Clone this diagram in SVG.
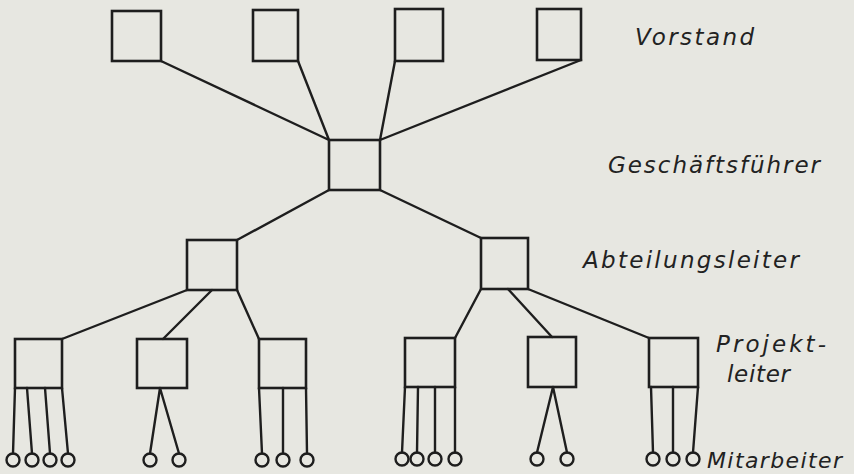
<svg xmlns="http://www.w3.org/2000/svg" width="854" height="474" viewBox="0 0 854 474">
<style>
.bx{fill:none;stroke:#1e1e1e;stroke-width:2.6}
.ln{fill:none;stroke:#1e1e1e;stroke-width:2.4;stroke-linecap:round}
.ci{fill:none;stroke:#1e1e1e;stroke-width:2.4}
.lb{font-family:"DejaVu Sans","Liberation Sans",sans-serif;font-style:italic;font-size:23px;fill:#222}
</style>
<rect width="854" height="474" fill="#e7e7e1"/>
<g id="connectors">
<path class="ln" d="M161,61 L329,140 M298,61 L329,140 M395,61 L380,140 M581,60 L380,140"/>
<path class="ln" d="M329,190 L237,240 M380,190 L481,238"/>
<path class="ln" d="M187,290 L62,339 M212,290 L163,339 M237,290 L259,339"/>
<path class="ln" d="M481,289 L455,338 M508,289 L552,337 M528,289 L649,338"/>
<path class="ln" d="M15,388 L13,453.5 M27,388 L32,453.5 M45,388 L50,453.5 M62,388 L68,453.5"/>
<path class="ln" d="M160,388 L150,453.5 M160,388 L179,453.5"/>
<path class="ln" d="M259,388 L262,453.5 M283,388 L283,453.5 M306,388 L307,453.5"/>
<path class="ln" d="M405,387 L402,452.5 M418,387 L417,452.5 M435,387 L435,452.5 M455,387 L455,452.5"/>
<path class="ln" d="M553,387 L537,452.5 M553,387 L567,452.5"/>
<path class="ln" d="M651,387 L653,452.5 M673,387 L673,452.5 M698,387 L693,452.5"/>
</g>
<g id="vorstand1"><rect class="bx" x="112" y="11" width="49" height="50"/></g>
<g id="vorstand2"><rect class="bx" x="253" y="10" width="45" height="51"/></g>
<g id="vorstand3"><rect class="bx" x="395" y="9" width="48" height="52"/></g>
<g id="vorstand4"><rect class="bx" x="537" y="9" width="44" height="51"/></g>
<g id="geschaeftsfuehrer"><rect class="bx" x="329" y="140" width="51" height="50"/></g>
<g id="abteilungsleiter1"><rect class="bx" x="187" y="240" width="50" height="50"/></g>
<g id="abteilungsleiter2"><rect class="bx" x="481" y="238" width="47" height="51"/></g>
<g id="projektleiter1"><rect class="bx" x="15" y="339" width="47" height="49"/></g>
<g id="projektleiter2"><rect class="bx" x="137" y="339" width="50" height="49"/></g>
<g id="projektleiter3"><rect class="bx" x="259" y="339" width="47" height="49"/></g>
<g id="projektleiter4"><rect class="bx" x="405" y="338" width="50" height="49"/></g>
<g id="projektleiter5"><rect class="bx" x="528" y="337" width="48" height="50"/></g>
<g id="projektleiter6"><rect class="bx" x="649" y="338" width="49" height="49"/></g>
<g id="mitarbeiter1">
<circle class="ci" cx="13" cy="460" r="6.5"/><circle class="ci" cx="32" cy="460" r="6.5"/><circle class="ci" cx="50" cy="460" r="6.5"/><circle class="ci" cx="68" cy="460" r="6.5"/>
</g>
<g id="mitarbeiter2"><circle class="ci" cx="150" cy="460" r="6.5"/><circle class="ci" cx="179" cy="460" r="6.5"/></g>
<g id="mitarbeiter3"><circle class="ci" cx="262" cy="460" r="6.5"/><circle class="ci" cx="283" cy="460" r="6.5"/><circle class="ci" cx="307" cy="460" r="6.5"/></g>
<g id="mitarbeiter4"><circle class="ci" cx="402" cy="459" r="6.5"/><circle class="ci" cx="417" cy="459" r="6.5"/><circle class="ci" cx="435" cy="459" r="6.5"/><circle class="ci" cx="455" cy="459" r="6.5"/></g>
<g id="mitarbeiter5"><circle class="ci" cx="537" cy="459" r="6.5"/><circle class="ci" cx="567" cy="459" r="6.5"/></g>
<g id="mitarbeiter6"><circle class="ci" cx="653" cy="459" r="6.5"/><circle class="ci" cx="673" cy="459" r="6.5"/><circle class="ci" cx="693" cy="459" r="6.5"/></g>
<g id="labels">
<text class="lb" x="635" y="45" textLength="119" lengthAdjust="spacing">Vorstand</text>
<text class="lb" x="608" y="173" textLength="212" lengthAdjust="spacing">Geschäftsführer</text>
<text class="lb" x="583" y="268" textLength="216" lengthAdjust="spacing">Abteilungsleiter</text>
<text class="lb" x="716" y="352" textLength="110" lengthAdjust="spacing">Projekt-</text>
<text class="lb" x="727" y="382" textLength="63" lengthAdjust="spacing">leiter</text>
<text class="lb" x="707" y="468" textLength="135" lengthAdjust="spacing" style="font-size:22px">Mitarbeiter</text>
</g>
</svg>
